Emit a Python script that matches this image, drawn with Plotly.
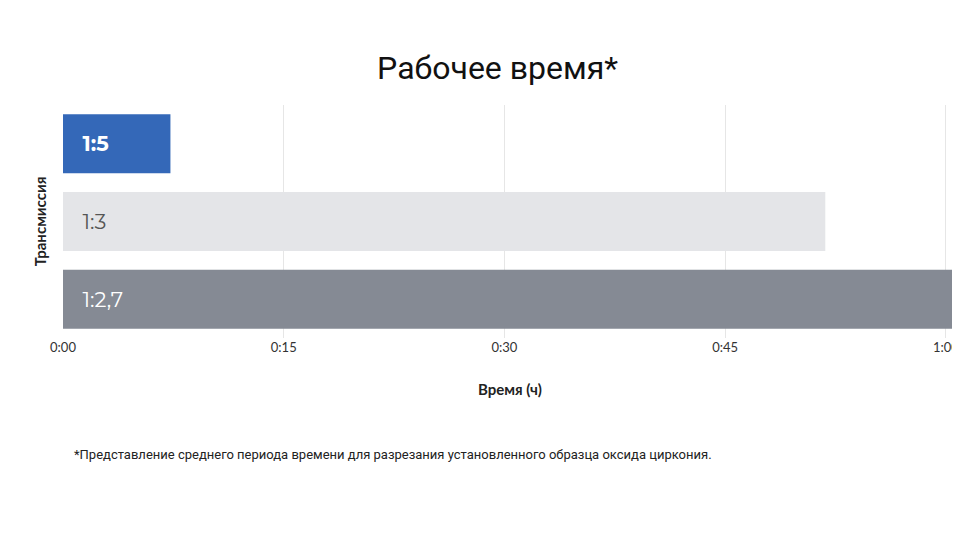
import plotly.graph_objects as go

categories = ["1:2,7", "1:3", "1:5"]
minutes = [60.7, 51.8, 7.3]
colors = ["#858a94", "#e4e5e8", "#3468b8"]
text_colors = ["white", "#555555", "white"]
labels = ["   1:2,7", "   1:3", "   <b>1:5</b>"]
tick_vals = [0, 15, 30, 45, 60]
tick_text = ["0:00", "0:15", "0:30", "0:45", "1:00"]

fig = go.Figure(go.Bar(
    y=categories, x=minutes, orientation="h",
    marker=dict(color=colors, line=dict(width=0)),
    text=labels, textposition="inside", insidetextanchor="start",
    textfont=dict(color=text_colors, size=21, family="Montserrat, Lato, sans-serif"),
    hoverinfo="skip",
))
fig.update_layout(
    width=960, height=540, paper_bgcolor="white", plot_bgcolor="white",
    margin=dict(l=55, r=11, t=97, b=210, autoexpand=False),
    bargap=0.24, showlegend=False,
    title=dict(text="Рабочее время*", x=0.51, xanchor="center", y=0.89, yanchor="middle",
               font=dict(size=32, color="#111111", family="Roboto")),
    xaxis=dict(range=[0, 60.75], tickvals=tick_vals, ticktext=tick_text,
               showgrid=True, gridcolor="#e6e6e6", zeroline=False, automargin=False,
               tickfont=dict(size=13, color="#333333", family="Lato"),
               title=dict(text="<b>Время (ч)</b>", font=dict(size=15, color="#222", family="Lato"), standoff=30)),
    yaxis=dict(showticklabels=False, showgrid=False, zeroline=False, automargin=False),
    annotations=[
        dict(text="<b>Трансмиссия</b>", xref="paper", yref="paper", x=-0.026, y=0.5,
             xanchor="center", yanchor="middle", textangle=-90, showarrow=False,
             font=dict(size=15, color="#222", family="Lato")),
        dict(text="*Представление среднего периода времени для разрезания установленного образца оксида циркония.",
             xref="paper", yref="paper", x=0.01, y=-0.5, xanchor="left", yanchor="middle",
             showarrow=False, font=dict(size=13, color="#222", family="Roboto"))],
)
fig.write_html("out.html")
